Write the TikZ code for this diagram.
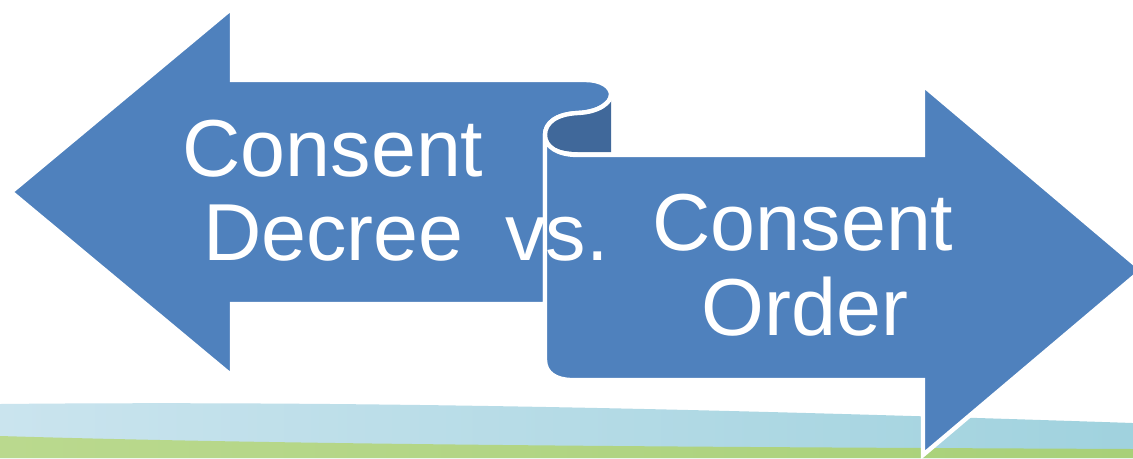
\documentclass[tikz,border=0pt]{standalone}
\usepackage{fontspec}
\setmainfont{Liberation Sans}
\definecolor{arrowblue}{RGB}{79,129,189}
\definecolor{rolldark}{RGB}{64,104,154}
\definecolor{skyL}{RGB}{202,228,238}
\definecolor{skyR}{RGB}{160,210,222}
\definecolor{grassL}{RGB}{186,217,142}
\definecolor{grassR}{RGB}{168,208,120}
\tikzset{
  arrowshape/.style={fill=arrowblue, draw=white, line width=2.5pt, line join=miter},
  rollshape/.style={fill=rolldark},
  bigtext/.style={text=white, inner sep=0pt, font=\fontsize{46}{48}\selectfont}
}
\begin{document}
\begin{tikzpicture}[x=0.02cm,y=-0.02cm]
\useasboundingbox (0,0) rectangle (1133,458);
\clip (0,0) rectangle (1133,458);
\fill[white] (0,0) rectangle (1133,458);
% background bands
\shade[left color=skyL, right color=skyR] (0,404) .. controls (400,400) and (800,412) .. (1133,423) -- (1133,458) -- (0,458) -- cycle;
\shade[left color=grassL, right color=grassR] (0,436) .. controls (300,445) and (700,447) .. (1133,449) -- (1133,458) -- (0,458) -- cycle;
% left arrow
\path[arrowshape] (11,192) -- (232,8) -- (232,80) -- (585,80)
  .. controls (602,80) and (611,87) .. (611,95)
  .. controls (611,102) and (600,112) .. (578,113)
  .. controls (556,114) and (545,123) .. (545,135)
  -- (545,304) -- (232,304) -- (232,376) -- cycle;
% inside of the roll
\path[rollshape] (545,135) .. controls (545,123) and (556,114) .. (578,113)
  .. controls (600,112) and (611,102) .. (611,95)
  -- (611,152) -- (578,152) .. controls (558,152) and (545,145) .. (545,135) -- cycle;
\draw[white, line width=2.5pt] (545,135) .. controls (545,123) and (556,114) .. (578,113)
  .. controls (600,112) and (611,102) .. (611,95);
% right arrow
\path[arrowshape] (545,135) .. controls (545,147) and (558,155) .. (578,155)
  -- (923,155) -- (923,85) -- (1142,270) -- (923,455) -- (923,380)
  -- (572,380) .. controls (556,380) and (545,373) .. (545,360) -- cycle;
% texts
\node[bigtext, anchor=base] (c1) at (333,176) {Consent};
\node[bigtext, anchor=base] (d1) at (333.5,260) {Decree};
\node[bigtext, anchor=base west] (vs) at (505,260) {vs.};
\node[bigtext, anchor=base] (c2) at (803,250) {Consent};
\node[bigtext, anchor=base] (o2) at (805,335) {Order};
\end{tikzpicture}
\end{document}
